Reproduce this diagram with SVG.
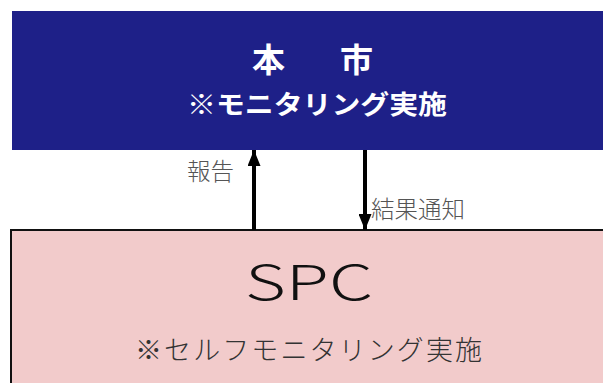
<svg xmlns="http://www.w3.org/2000/svg" width="603" height="383" viewBox="0 0 603 383">
<style>
.jp{font-family:"Noto Sans CJK JP","Noto Sans",sans-serif}
.lbl{font-size:23.5px;fill:#555555;font-weight:300}
.title{fill:#ffffff;font-weight:bold}
</style>
<defs>
<marker id="ah" markerWidth="16" markerHeight="13" refX="16" refY="6.5" orient="auto" markerUnits="userSpaceOnUse" viewBox="0 0 16 13">
<path d="M0,0 L16,6.5 L0,13 Z" fill="#000"/>
</marker>
</defs>
<rect width="603" height="383" fill="#ffffff"/>
<g id="city">
<rect x="12" y="11" width="600" height="139" fill="#1e2088"/>
<text class="jp title" x="252 290 340" y="72" font-size="33">本　市</text>
<text class="jp title" x="187" y="114" font-size="26" textLength="260" lengthAdjust="spacingAndGlyphs">※モニタリング実施</text>
</g>
<g id="spc">
<rect x="11" y="230" width="600" height="160" fill="#f2cbcb" stroke="#111" stroke-width="2"/>
<text class="jp" x="245" y="300" font-size="48" font-weight="300" fill="#111" textLength="128" lengthAdjust="spacingAndGlyphs">SPC</text>
<text class="jp" x="135" y="360" font-size="27" font-weight="300" fill="#333" textLength="347" lengthAdjust="spacing">※セルフモニタリング実施</text>
</g>
<g id="connectors" stroke="#000" stroke-width="4" fill="none">
<line x1="254" y1="230" x2="254" y2="150" marker-end="url(#ah)"/>
<line x1="365" y1="150" x2="365" y2="230" marker-end="url(#ah)"/>
</g>
<g id="labels">
<text class="jp lbl" x="187" y="180">報告</text>
<text class="jp lbl" x="371" y="218">結果通知</text>
</g>
</svg>
